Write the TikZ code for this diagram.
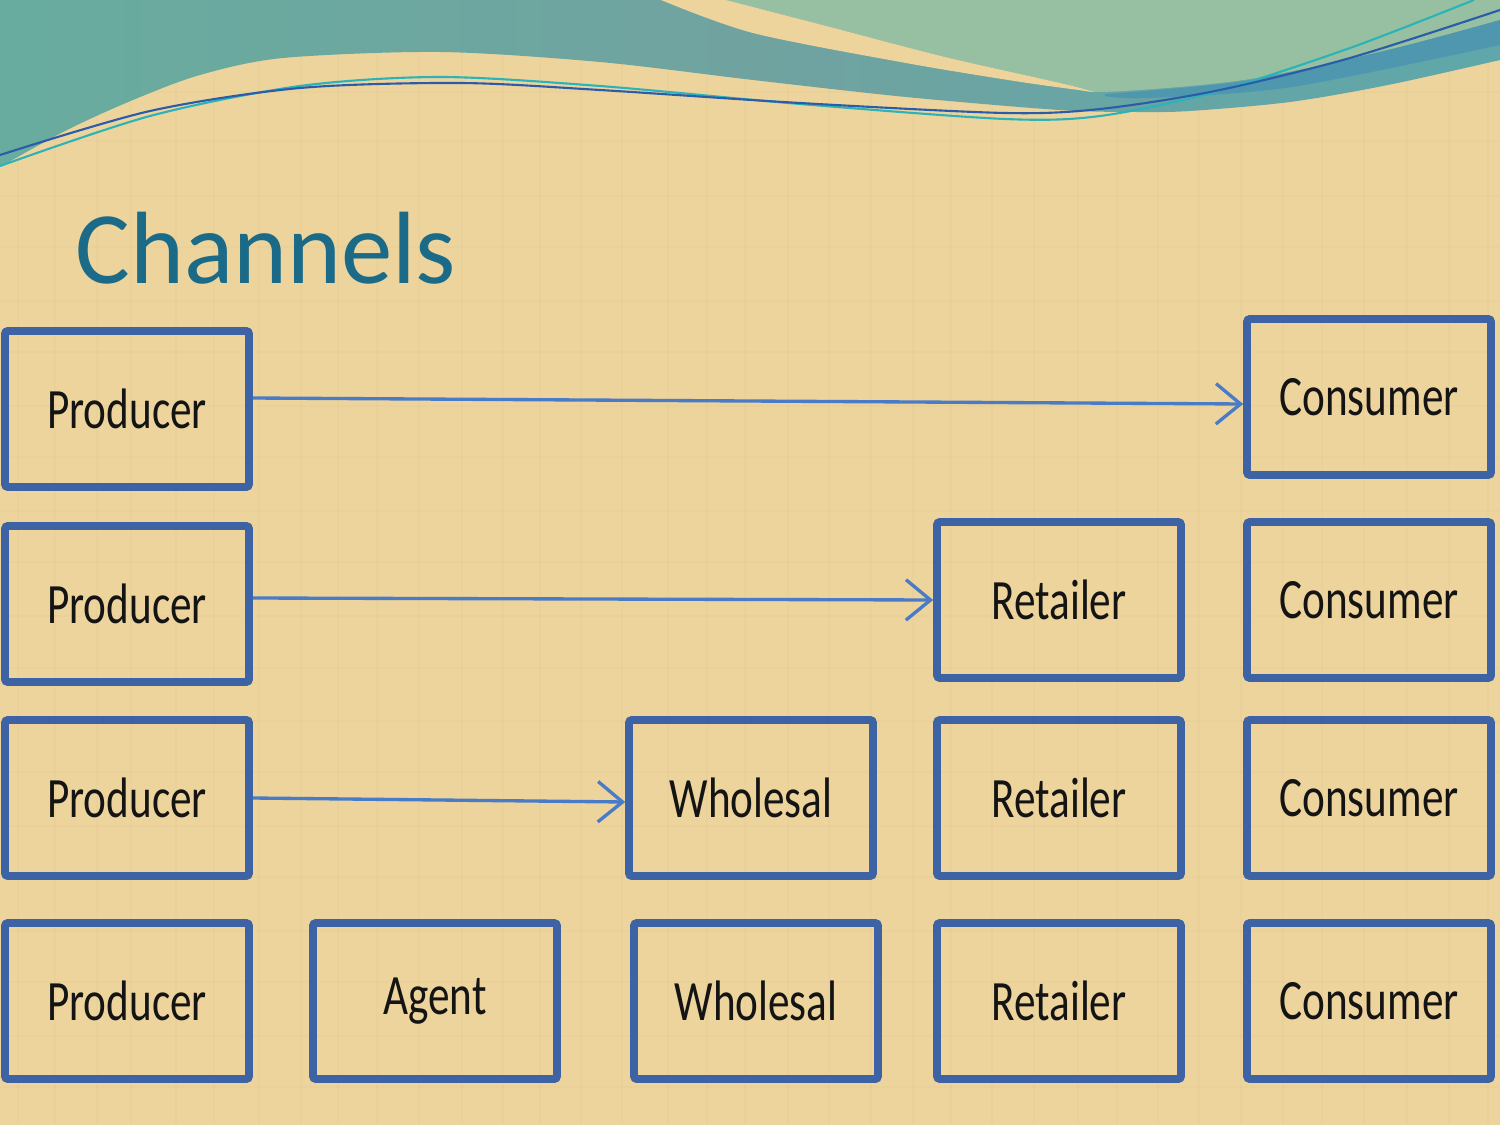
\documentclass[tikz,border=0pt]{standalone}
\usepackage{fontspec}
\setmainfont{Carlito}
\usepackage{graphicx}
\usetikzlibrary{arrows.meta,calc}
\definecolor{paper}{HTML}{EDD49D}
\definecolor{paperdark}{HTML}{C9A86A}
\definecolor{tealtop}{HTML}{70A3A0}
\definecolor{tealleft}{HTML}{68AC9F}
\definecolor{tealright}{HTML}{5FA7AA}
\definecolor{palegreen}{HTML}{97BFA2}
\definecolor{bandblue}{HTML}{4F97AE}
\definecolor{linecyan}{HTML}{2BB3B8}
\definecolor{lineblue}{HTML}{2A5CAA}
\definecolor{titleblue}{HTML}{1B6A88}
\definecolor{boxblue}{HTML}{3D63A5}
\definecolor{arrowblue}{HTML}{4A7BC6}
\newcommand{\bt}[1]{\scalebox{1}[1.32]{#1}}
\tikzset{
  bx/.style={draw=boxblue, line width=4.4pt, rounded corners=1.5pt, minimum width=4.88cm, minimum height=3.12cm,
    inner sep=0pt, text=black!92, font=\fontsize{24.6}{29}\selectfont},
  flow/.style={draw=arrowblue, line width=1.9pt,
    -{Straight Barb[length=14pt,width=23pt,line width=1.9pt]}},
  texture/.style={draw=paperdark, opacity=0.07, line width=1.5pt}
}
\begin{document}
\begin{tikzpicture}[x=0.02cm,y=-0.02cm]
\useasboundingbox (0,0) rectangle (1500,1125);
\fill[paper] (0,0) rectangle (1500,1125);
% faint woven texture
\foreach \x in {18,55,97,131,176,214,259,301,338,377,419,462,503,540,581,622,668,707,745,788,829,871,913,951,992,1034,1078,1117,1158,1199,1241,1283,1322,1364,1407,1449,1488}
  \draw[texture] (\x,0) -- (\x,1125);
\foreach \y in {40,92,141,196,247,301,352,406,457,511,562,616,668,721,772,826,877,931,982,1036,1087}
  \draw[texture] (0,\y) -- (1500,\y);
% banner
\shade[left color=tealleft, right color=tealright, middle color=tealtop] (0,0) -- (1500,0) -- (1500,60)
  -- plot[smooth] coordinates {(1500,60) (1388,85) (1290,102) (1190,111) (1136,112) (1059,110) (906,97) (753,80) (600,62) (440,52) (283,58) (200,75) (133,100) (67,130) (0,167)}
  -- cycle;
\fill[palegreen] (726,0) -- plot[smooth] coordinates {(726,0) (830,27) (945,57) (1060,83) (1100,92) (1244,80) (1388,50) (1500,20)} -- (1500,0) -- cycle;
\fill[bandblue] plot[smooth] coordinates {(1105,94) (1244,81) (1388,50) (1500,20)} -- (1500,45)
  -- plot[smooth] coordinates {(1500,45) (1292,87) (1148,98) (1105,96)} -- cycle;
\fill[paper] plot[smooth] coordinates {(661,0) (753,33) (906,63) (1021,82) (1094,92)}
  -- plot[smooth] coordinates {(1094,92) (1060,83) (945,57) (830,27) (726,0)} -- cycle;
\draw[linecyan, line width=1.2pt] plot[smooth] coordinates {(0,166) (150,116) (300,86) (440,77) (600,86) (800,104) (1005,119) (1100,116) (1215,92) (1350,48) (1474,0)};
\draw[lineblue, line width=1.2pt] plot[smooth] coordinates {(0,155) (150,111) (300,88) (460,83) (600,90) (800,103) (1005,113) (1100,109) (1215,91) (1350,58) (1500,10)};
% title
\node[anchor=base west, text=titleblue, font=\fontsize{58.5}{60}\selectfont, inner sep=0pt] (title) at (75,283) {Channels};
% boxes
\node[bx] (p1) at (127,409) {\bt{Producer}};
\node[bx] (c1) at (1369,397) {\bt{Consumer}};
\node[bx] (p2) at (127,604) {\bt{Producer}};
\node[bx] (r2) at (1059,600) {\bt{Retailer}};
\node[bx] (c2) at (1369,600) {\bt{Consumer}};
\node[bx] (p3) at (127,798) {\bt{Producer}};
\node[bx] (w3) at (751,798) {\bt{Wholesal}};
\node[bx] (r3) at (1059,798) {\bt{Retailer}};
\node[bx] (c3) at (1369,798) {\bt{Consumer}};
\node[bx] (p4) at (127,1001) {\bt{Producer}};
\node[bx] (a4) at (435,1001) {\bt{Agent}};
\node[bx] (w4) at (756,1001) {\bt{Wholesal}};
\node[bx] (r4) at (1059,1001) {\bt{Retailer}};
\node[bx] (c4) at (1369,1001) {\bt{Consumer}};
% arrows
\draw[flow] ($(p1.east)+(0,-11)$) -- ($(c1.west)+(0,7)$);
\draw[flow] ($(p2.east)+(0,-6)$) -- (r2.west);
\draw[flow] (p3.east) -- ($(w3.west)+(0,4)$);
\end{tikzpicture}
\end{document}
